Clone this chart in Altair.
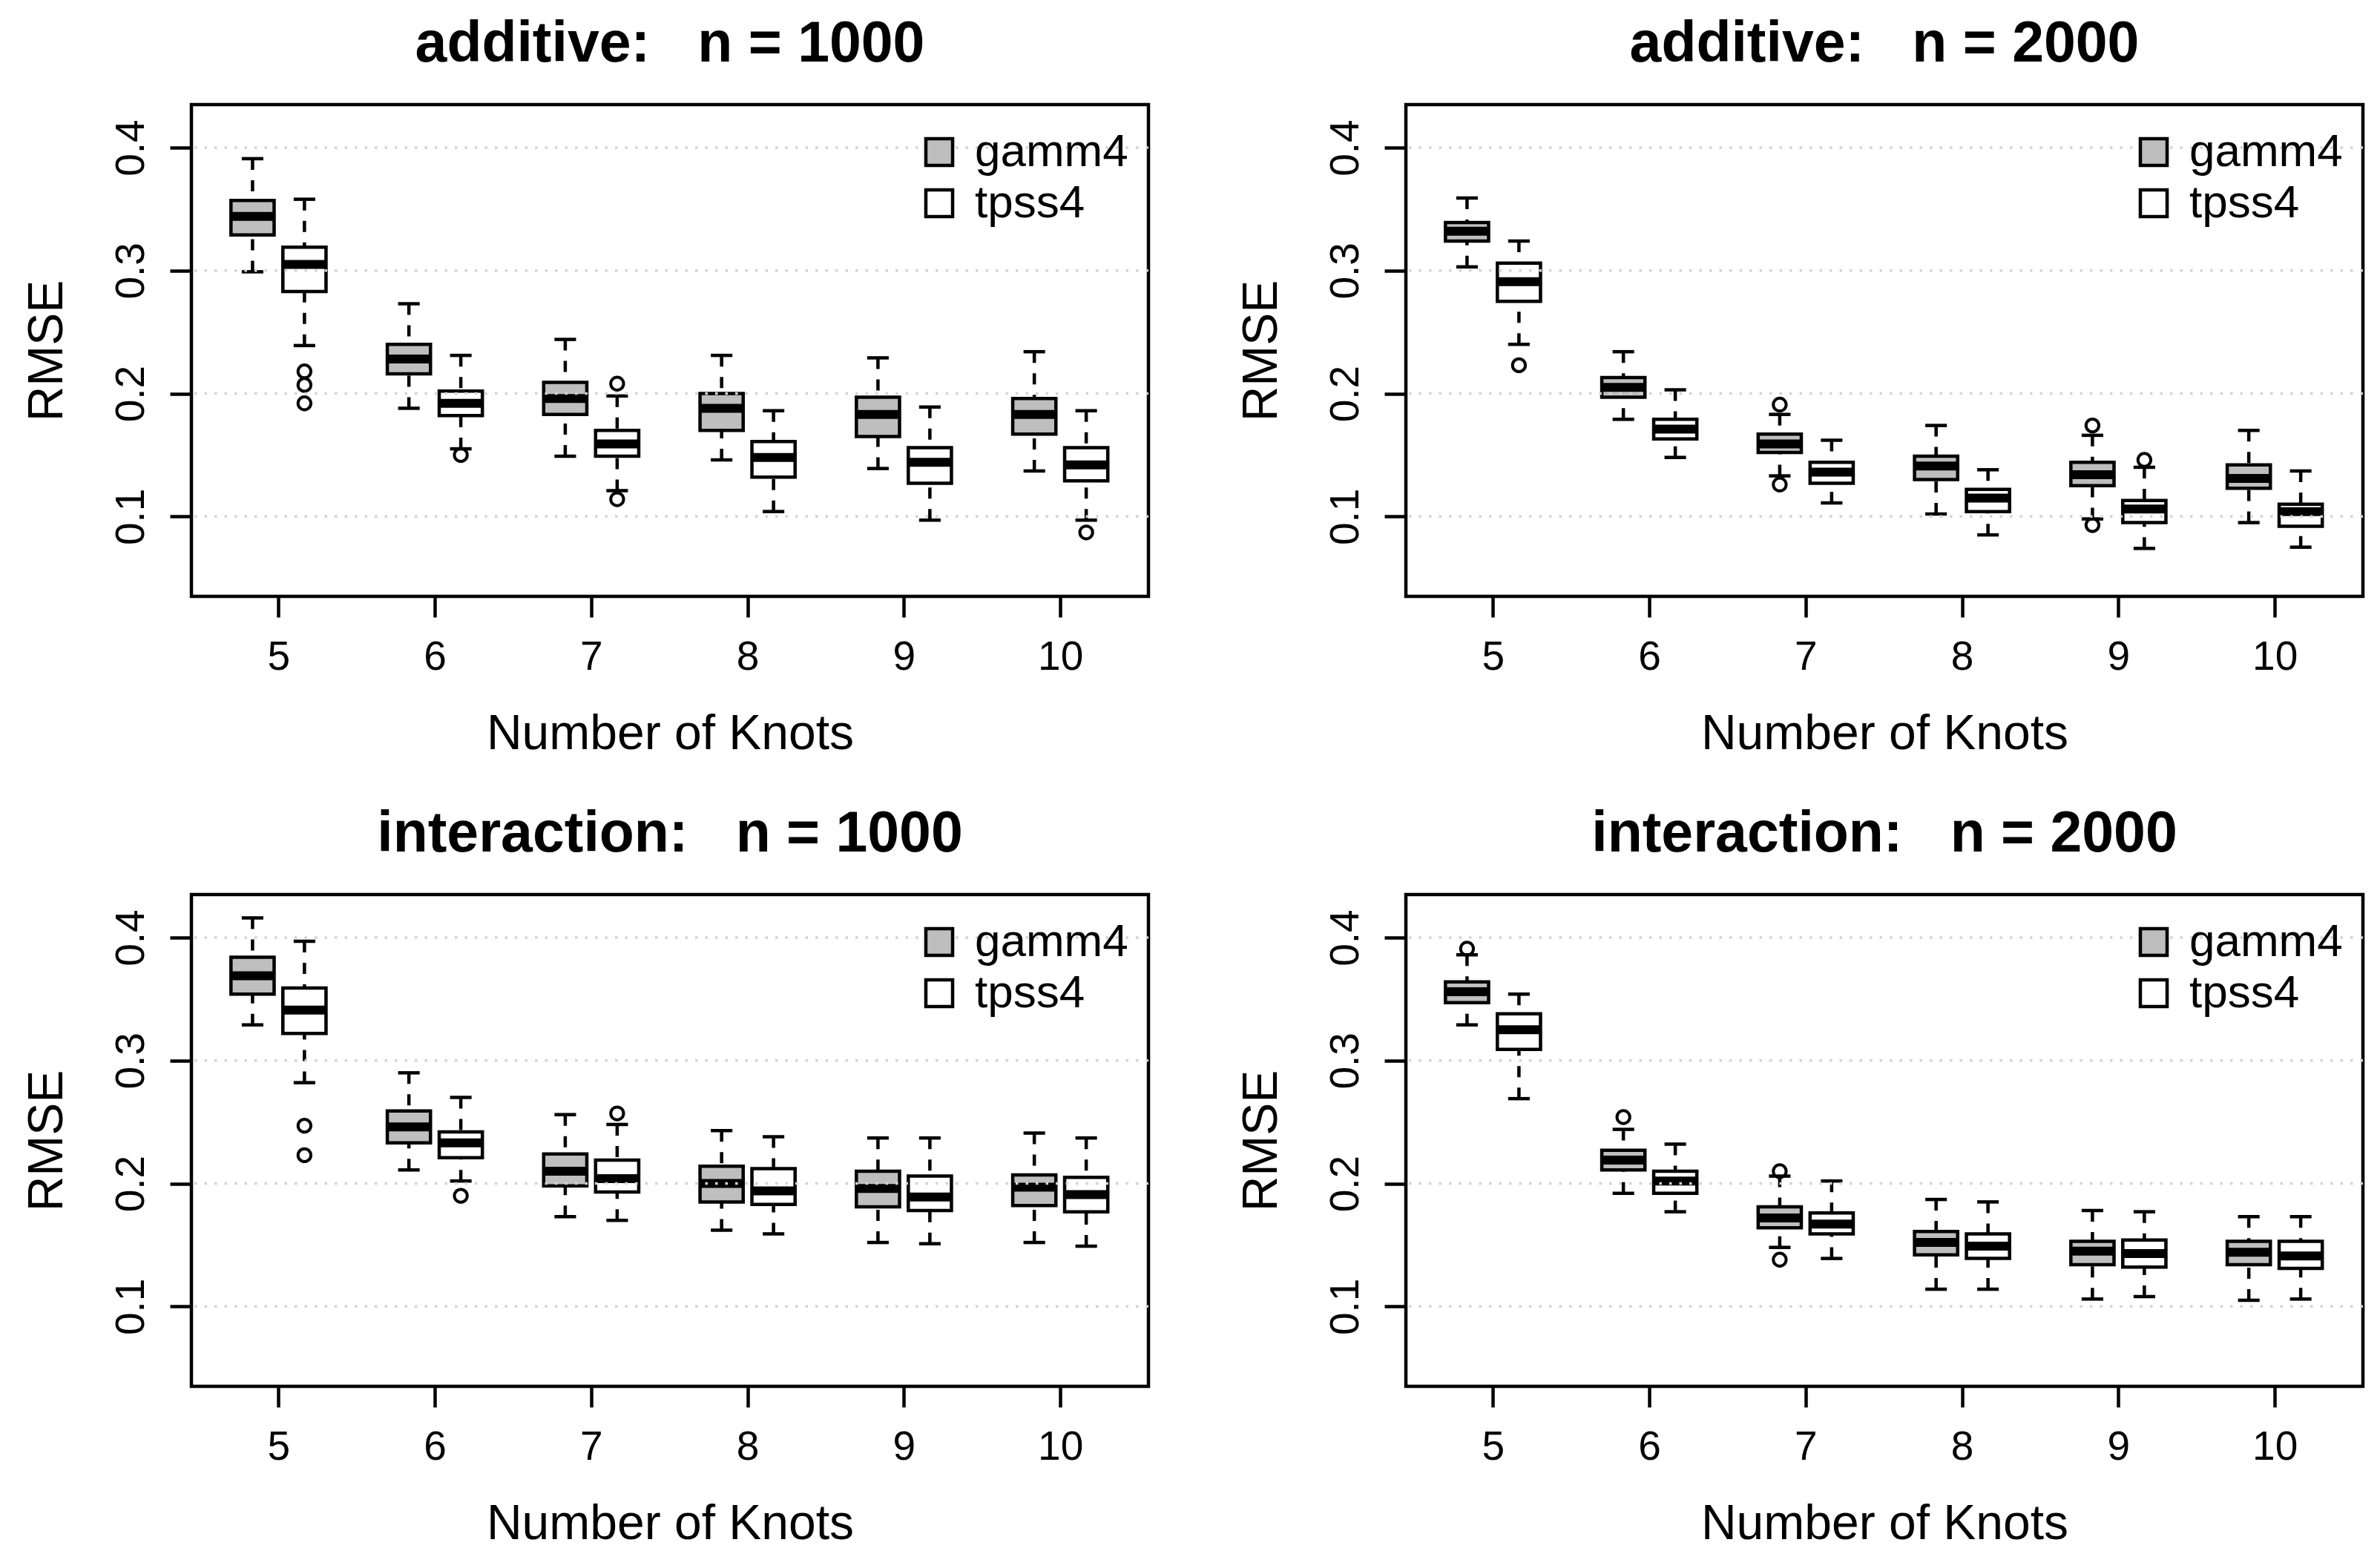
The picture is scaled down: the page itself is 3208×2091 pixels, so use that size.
import altair as alt
import pandas as pd

KNOTS = [5, 6, 7, 8, 9, 10]
METHODS = ["gamm4", "tpss4"]
FILLS = ["#bebebe", "#ffffff"]
Y_TICKS = [0.1, 0.2, 0.3, 0.4]

TITLES = [
    "additive:\u00a0\u00a0\u00a0n = 1000",
    "additive:\u00a0\u00a0\u00a0n = 2000",
    "interaction:\u00a0\u00a0\u00a0n = 1000",
    "interaction:\u00a0\u00a0\u00a0n = 2000",
]

# per knot: [lower whisker, Q1, median, Q3, upper whisker]
ADD_1000_GAMM4 = [[0.299, 0.329, 0.344, 0.357, 0.391],
                  [0.188, 0.216, 0.228, 0.240, 0.273],
                  [0.149, 0.183, 0.196, 0.209, 0.244],
                  [0.146, 0.170, 0.188, 0.200, 0.231],
                  [0.139, 0.165, 0.183, 0.197, 0.229],
                  [0.137, 0.167, 0.183, 0.196, 0.234]]
ADD_1000_TPSS4 = [[0.239, 0.283, 0.305, 0.319, 0.358],
                  [0.155, 0.182, 0.192, 0.202, 0.231],
                  [0.121, 0.149, 0.159, 0.170, 0.198],
                  [0.104, 0.132, 0.148, 0.161, 0.186],
                  [0.097, 0.127, 0.144, 0.156, 0.189],
                  [0.097, 0.129, 0.142, 0.156, 0.186]]
ADD_1000_OUT = [(5, "tpss4", 0.218), (5, "tpss4", 0.207), (5, "tpss4", 0.192),
                (6, "tpss4", 0.150), (7, "tpss4", 0.208), (7, "tpss4", 0.114),
                (10, "tpss4", 0.087)]

ADD_2000_GAMM4 = [[0.303, 0.324, 0.332, 0.339, 0.359],
                  [0.179, 0.197, 0.205, 0.213, 0.234],
                  [0.133, 0.152, 0.159, 0.167, 0.183],
                  [0.102, 0.130, 0.141, 0.149, 0.174],
                  [0.098, 0.125, 0.134, 0.144, 0.166],
                  [0.095, 0.123, 0.131, 0.142, 0.170]]
ADD_2000_TPSS4 = [[0.240, 0.275, 0.291, 0.306, 0.324],
                  [0.148, 0.163, 0.171, 0.179, 0.203],
                  [0.111, 0.127, 0.136, 0.144, 0.162],
                  [0.085, 0.104, 0.115, 0.122, 0.138],
                  [0.074, 0.095, 0.106, 0.113, 0.140],
                  [0.075, 0.092, 0.104, 0.110, 0.137]]
ADD_2000_OUT = [(5, "tpss4", 0.223), (7, "gamm4", 0.191), (7, "gamm4", 0.126),
                (9, "gamm4", 0.174), (9, "gamm4", 0.093), (9, "tpss4", 0.146)]

INT_1000_GAMM4 = [[0.329, 0.354, 0.369, 0.384, 0.416],
                  [0.211, 0.233, 0.246, 0.259, 0.290],
                  [0.173, 0.198, 0.210, 0.224, 0.256],
                  [0.162, 0.185, 0.200, 0.214, 0.243],
                  [0.152, 0.181, 0.196, 0.210, 0.237],
                  [0.152, 0.182, 0.197, 0.207, 0.241]]
INT_1000_TPSS4 = [[0.282, 0.322, 0.341, 0.359, 0.397],
                  [0.202, 0.221, 0.233, 0.242, 0.270],
                  [0.170, 0.193, 0.204, 0.219, 0.248],
                  [0.159, 0.183, 0.194, 0.212, 0.238],
                  [0.151, 0.178, 0.189, 0.206, 0.237],
                  [0.149, 0.177, 0.191, 0.205, 0.237]]
INT_1000_OUT = [(5, "tpss4", 0.247), (5, "tpss4", 0.223), (6, "tpss4", 0.190),
                (7, "tpss4", 0.257)]

INT_2000_GAMM4 = [[0.329, 0.347, 0.356, 0.364, 0.386],
                  [0.192, 0.211, 0.219, 0.227, 0.244],
                  [0.148, 0.164, 0.172, 0.181, 0.206],
                  [0.114, 0.142, 0.152, 0.161, 0.187],
                  [0.106, 0.134, 0.145, 0.153, 0.178],
                  [0.105, 0.134, 0.144, 0.153, 0.173]]
INT_2000_TPSS4 = [[0.269, 0.309, 0.325, 0.338, 0.354],
                  [0.177, 0.192, 0.202, 0.210, 0.232],
                  [0.139, 0.159, 0.167, 0.176, 0.202],
                  [0.114, 0.139, 0.149, 0.159, 0.185],
                  [0.108, 0.132, 0.143, 0.154, 0.177],
                  [0.106, 0.131, 0.141, 0.153, 0.173]]
INT_2000_OUT = [(5, "gamm4", 0.391), (6, "gamm4", 0.254), (7, "gamm4", 0.210),
                (7, "gamm4", 0.138)]

# layout constants (like R's `at` / boxwex / staplewex)
OFFSET = {"gamm4": -0.166, "tpss4": 0.166}
BOX_HALF = 0.138
CAP_HALF = 0.069

FONT = "Liberation Sans"
PW, PH = 1290, 663
LW = 4.5

XSCALE = alt.Scale(domain=[4.443, 10.564], nice=False, zero=False)
YSCALE = alt.Scale(domain=[0.035, 0.435], nice=False, zero=False)

XAXIS = alt.Axis(values=KNOTS, format="d", title="Number of Knots", grid=False,
                 domain=False, ticks=True, tickSize=28, tickWidth=LW, tickColor="black",
                 labelFont=FONT, labelFontSize=55, labelColor="black",
                 labelBaseline="alphabetic", labelPadding=70, labelFlush=False,
                 labelOverlap=False,
                 titleFont=FONT, titleFontSize=66, titleFontWeight="normal",
                 titleColor="black", titleX=PW / 2, titleY=205, titleAlign="center",
                 titleBaseline="alphabetic", titleAngle=0)
YAXIS = alt.Axis(values=Y_TICKS, format=".1f", title="RMSE", grid=False,
                 domain=False, ticks=True, tickSize=29, tickWidth=LW, tickColor="black",
                 labelFont=FONT, labelFontSize=55, labelColor="black",
                 labelAngle=270, labelAlign="center", labelBaseline="alphabetic",
                 labelPadding=36, labelFlush=False, labelOverlap=False,
                 titleFont=FONT, titleFontSize=66, titleFontWeight="normal",
                 titleColor="black", titleX=-175, titleY=PH / 2, titleAlign="center",
                 titleBaseline="alphabetic", titleAngle=270)


def X(f):
    return alt.X(f + ":Q", scale=XSCALE, axis=XAXIS)


def Y(f):
    return alt.Y(f + ":Q", scale=YSCALE, axis=YAXIS)


def panel(title, gamm, tpss, outs):
    rows = []
    for method, stats in (("gamm4", gamm), ("tpss4", tpss)):
        for k, (lo, q1, med, q3, hi) in zip(KNOTS, stats):
            pos = k + OFFSET[method]
            rows.append(dict(knot=k, method=method, lo=lo, q1=q1, med=med, q3=q3, hi=hi,
                             pos=pos, left=pos - BOX_HALF, right=pos + BOX_HALF,
                             capl=pos - CAP_HALF, capr=pos + CAP_HALF))
    df = pd.DataFrame(rows)
    odf = pd.DataFrame([dict(knot=k, method=m, value=v, pos=k + OFFSET[m]) for k, m, v in outs])
    gdf = pd.DataFrame({"g": Y_TICKS})

    base = alt.Chart(df)
    wh_up = base.mark_rule(color="black", strokeWidth=LW, strokeDash=[15, 14]).encode(
        x=X("pos"), y=Y("hi"), y2=alt.Y2("q3"))
    wh_lo = base.mark_rule(color="black", strokeWidth=LW, strokeDash=[15, 14]).encode(
        x=X("pos"), y=Y("lo"), y2=alt.Y2("q1"))
    cap_up = base.mark_rule(color="black", strokeWidth=LW).encode(
        x=X("capl"), x2=alt.X2("capr"), y=Y("hi"))
    cap_lo = base.mark_rule(color="black", strokeWidth=LW).encode(
        x=X("capl"), x2=alt.X2("capr"), y=Y("lo"))
    boxes = base.mark_rect(stroke="black", strokeWidth=LW, opacity=1).encode(
        x=X("left"), x2=alt.X2("right"), y=Y("q1"), y2=alt.Y2("q3"),
        fill=alt.Fill("method:N", scale=alt.Scale(domain=METHODS, range=FILLS),
                      legend=alt.Legend(title=None, orient="none", legendX=977, legendY=33,
                                        direction="vertical", symbolType="square",
                                        symbolSize=1300, symbolStrokeColor="black",
                                        symbolStrokeWidth=LW, symbolOpacity=1,
                                        labelFont=FONT, labelFontSize=62, labelLimit=600,
                                        labelColor="black", labelOffset=17,
                                        rowPadding=7, padding=0)))
    medians = base.mark_rule(color="black", strokeWidth=12, strokeCap="butt").encode(
        x=X("left"), x2=alt.X2("right"), y=Y("med"))
    outliers = alt.Chart(odf).mark_point(shape="circle", filled=False, size=300,
                                          strokeWidth=4, color="black", opacity=1).encode(
        x=X("pos"), y=Y("value"))
    grid = alt.Chart(gdf).mark_rule(color="#d3d3d3", strokeWidth=3.5,
                                    strokeDash=[3.5, 10]).encode(y=Y("g"))

    return alt.layer(wh_up, wh_lo, cap_up, cap_lo, boxes, medians, outliers, grid).properties(
        width=PW, height=PH,
        title=alt.TitleParams(text=title, font=FONT, fontSize=77, fontWeight="bold",
                              color="black", anchor="middle", frame="group",
                              baseline="alphabetic", offset=-19))


p1 = panel(TITLES[0], ADD_1000_GAMM4, ADD_1000_TPSS4, ADD_1000_OUT)
p2 = panel(TITLES[1], ADD_2000_GAMM4, ADD_2000_TPSS4, ADD_2000_OUT)
p3 = panel(TITLES[2], INT_1000_GAMM4, INT_1000_TPSS4, INT_1000_OUT)
p4 = panel(TITLES[3], INT_2000_GAMM4, INT_2000_TPSS4, INT_2000_OUT)

chart = alt.concat(p1, p2, p3, p4, columns=2, spacing={"row": 402, "column": 347},
                   bounds="flush").resolve_scale(fill="independent").resolve_legend(
    fill="independent").properties(
    padding={"left": 19, "top": 10, "right": 5, "bottom": 5}
).configure(background="white").configure_view(stroke="black", strokeWidth=LW)

chart.save("out.html", embed_options={"renderer": "svg", "actions": False})
